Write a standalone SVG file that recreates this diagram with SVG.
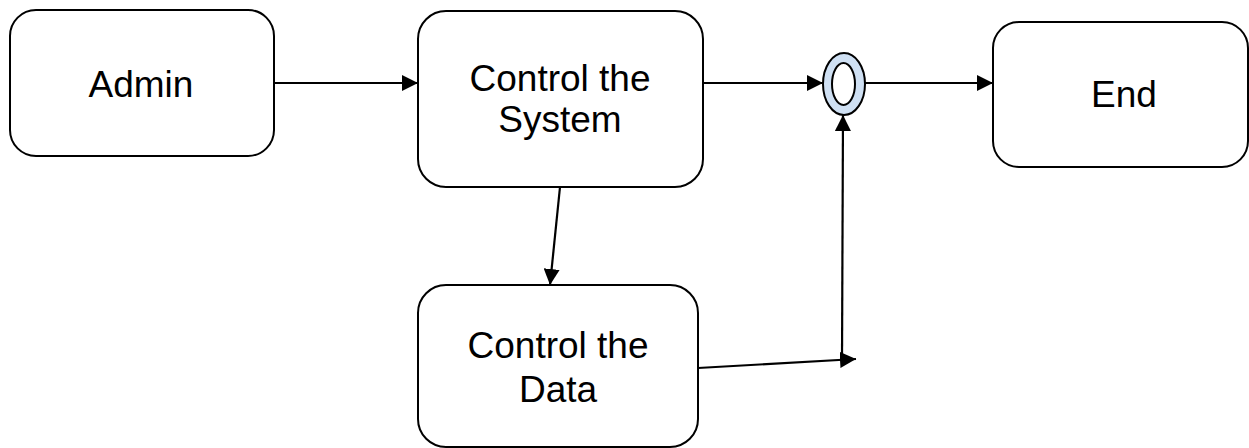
<svg xmlns="http://www.w3.org/2000/svg" width="1249" height="448" viewBox="0 0 1249 448">
<style>
.box{fill:#fff;stroke:#000;stroke-width:2}
.lbl{font-family:"Liberation Sans",Arial,sans-serif;font-size:37px;fill:#000;text-anchor:middle}
.con{fill:none;stroke:#000;stroke-width:2.2}
</style>
<defs>
<marker id="ah" markerUnits="userSpaceOnUse" markerWidth="16" markerHeight="16" viewBox="0 0 16 16" refX="16" refY="8" orient="auto">
<path d="M0,0 L16,8 L0,16 Z" fill="#000"/>
</marker>
</defs>
<rect width="1249" height="448" fill="#fff"/>
<g id="admin">
<rect class="box" x="10" y="10" width="264" height="146" rx="26" ry="26"/>
<text class="lbl" x="141" y="97">Admin</text>
</g>
<g id="control-system">
<rect class="box" x="418" y="11" width="285" height="176" rx="28" ry="28"/>
<text class="lbl" x="560" y="91">Control the</text>
<text class="lbl" x="560" y="132">System</text>
</g>
<g id="control-data">
<rect class="box" x="418" y="285" width="280" height="162" rx="28" ry="28"/>
<text class="lbl" x="558" y="358">Control the</text>
<text class="lbl" x="558" y="402">Data</text>
</g>
<g id="end">
<rect class="box" x="993" y="22" width="255" height="145" rx="26" ry="26"/>
<text class="lbl" x="1124" y="107">End</text>
</g>
<g id="merge">
<ellipse cx="844" cy="84" rx="21" ry="31" fill="#cfe0f3" stroke="#000" stroke-width="2"/>
<ellipse cx="843.5" cy="84" rx="11.5" ry="21" fill="#fff" stroke="#000" stroke-width="2"/>
</g>
<g id="connectors">
<line class="con" x1="274" y1="83" x2="418" y2="83" marker-end="url(#ah)"/>
<line class="con" x1="703" y1="83" x2="823" y2="83" marker-end="url(#ah)"/>
<line class="con" x1="865" y1="83" x2="993" y2="83" marker-end="url(#ah)"/>
<line class="con" x1="560" y1="187" x2="550" y2="285" marker-end="url(#ah)"/>
<line class="con" x1="698" y1="368" x2="856" y2="359" marker-end="url(#ah)"/>
<line class="con" x1="842" y1="361" x2="843" y2="115" marker-end="url(#ah)"/>
</g>
</svg>
